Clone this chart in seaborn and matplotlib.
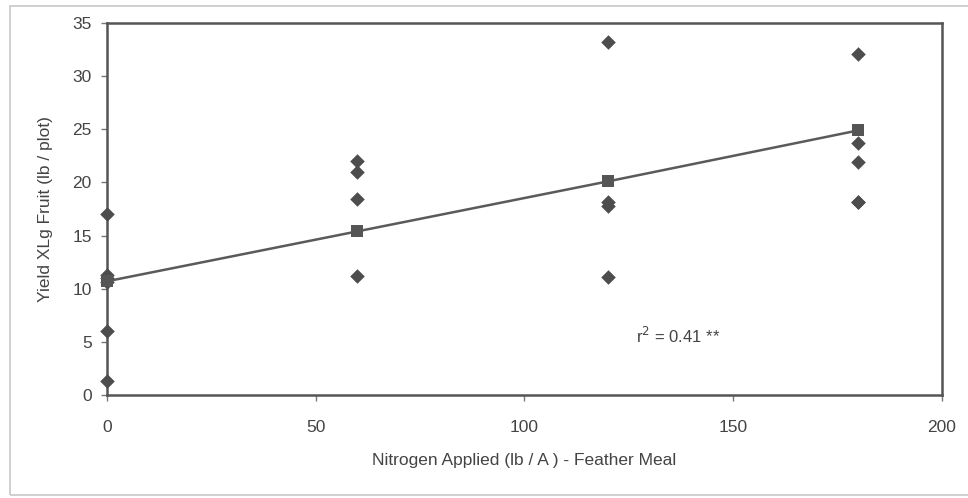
import matplotlib
matplotlib.use("Agg")
import matplotlib.pyplot as plt
import seaborn as sns
import pandas as pd
from matplotlib.patches import Rectangle

sns.set_theme(style="white")
plt.rcParams['font.family'] = ['Liberation Sans', 'DejaVu Sans']

# Observed yields (diamonds)
obs_x = [0, 0, 0, 0, 0, 0, 60, 60, 60, 60, 120, 120, 120, 120, 180, 180, 180, 180, 180]
obs_y = [17.0, 11.3, 11.0, 10.6, 6.0, 1.3, 22.0, 21.0, 18.4, 11.2, 33.2, 18.2, 17.8, 11.1, 32.1, 23.7, 21.9, 18.2, 18.2]
# Fitted regression values (squares + line)
fit_x = [0, 60, 120, 180]
fit_y = [10.7, 15.4, 20.1, 24.9]

xticks = [0, 50, 100, 150, 200]
yticks = [0, 5, 10, 15, 20, 25, 30, 35]

obs = pd.DataFrame({"x": obs_x, "y": obs_y})
fit = pd.DataFrame({"x": fit_x, "y": fit_y})

fig = plt.figure(figsize=(9.68, 4.98), dpi=100)
fig.patch.set_facecolor("white")
ax = fig.add_axes([0.1105, 0.2068, 0.8626, 0.747])

col = "#4d4d4d"
sns.lineplot(data=fit, x="x", y="y", ax=ax, color="#5a5a5a", linewidth=1.8, zorder=2)
sns.scatterplot(data=obs, x="x", y="y", ax=ax, marker="D", s=55, color=col, edgecolor=col,
                linewidth=0, zorder=3, clip_on=False)
sns.scatterplot(data=fit, x="x", y="y", ax=ax, marker="s", s=80, color="#555555", edgecolor="#555555",
                linewidth=0, zorder=4, clip_on=False)

ax.set_xlim(0, 200)
ax.set_ylim(0, 35)
ax.set_xticks(xticks)
ax.set_yticks(yticks)
ax.tick_params(axis="both", direction="out", length=4, width=1, color="#777777",
               labelsize=12.5, labelcolor="#444444", pad=7, bottom=True, left=True)
ax.tick_params(axis="x", pad=14)
for s in ax.spines.values():
    s.set_color("#555555")
    s.set_linewidth(1.8)

ax.set_xlabel("Nitrogen Applied (lb / A ) - Feather Meal", fontsize=12.5, color="#444444", labelpad=13)
ax.set_ylabel("Yield XLg Fruit (lb / plot)", fontsize=12.5, color="#444444", labelpad=14)

ax.text(126.7, 5.6, r"r$^2$ = 0.41 **", fontsize=12, color="#444444", va="center")

fig.patches.append(Rectangle((0.010, 0.006), 1.2, 0.982, transform=fig.transFigure,
                             fill=False, edgecolor="#c8c8c8", linewidth=1.2))

fig.savefig("out.png", dpi=100)
